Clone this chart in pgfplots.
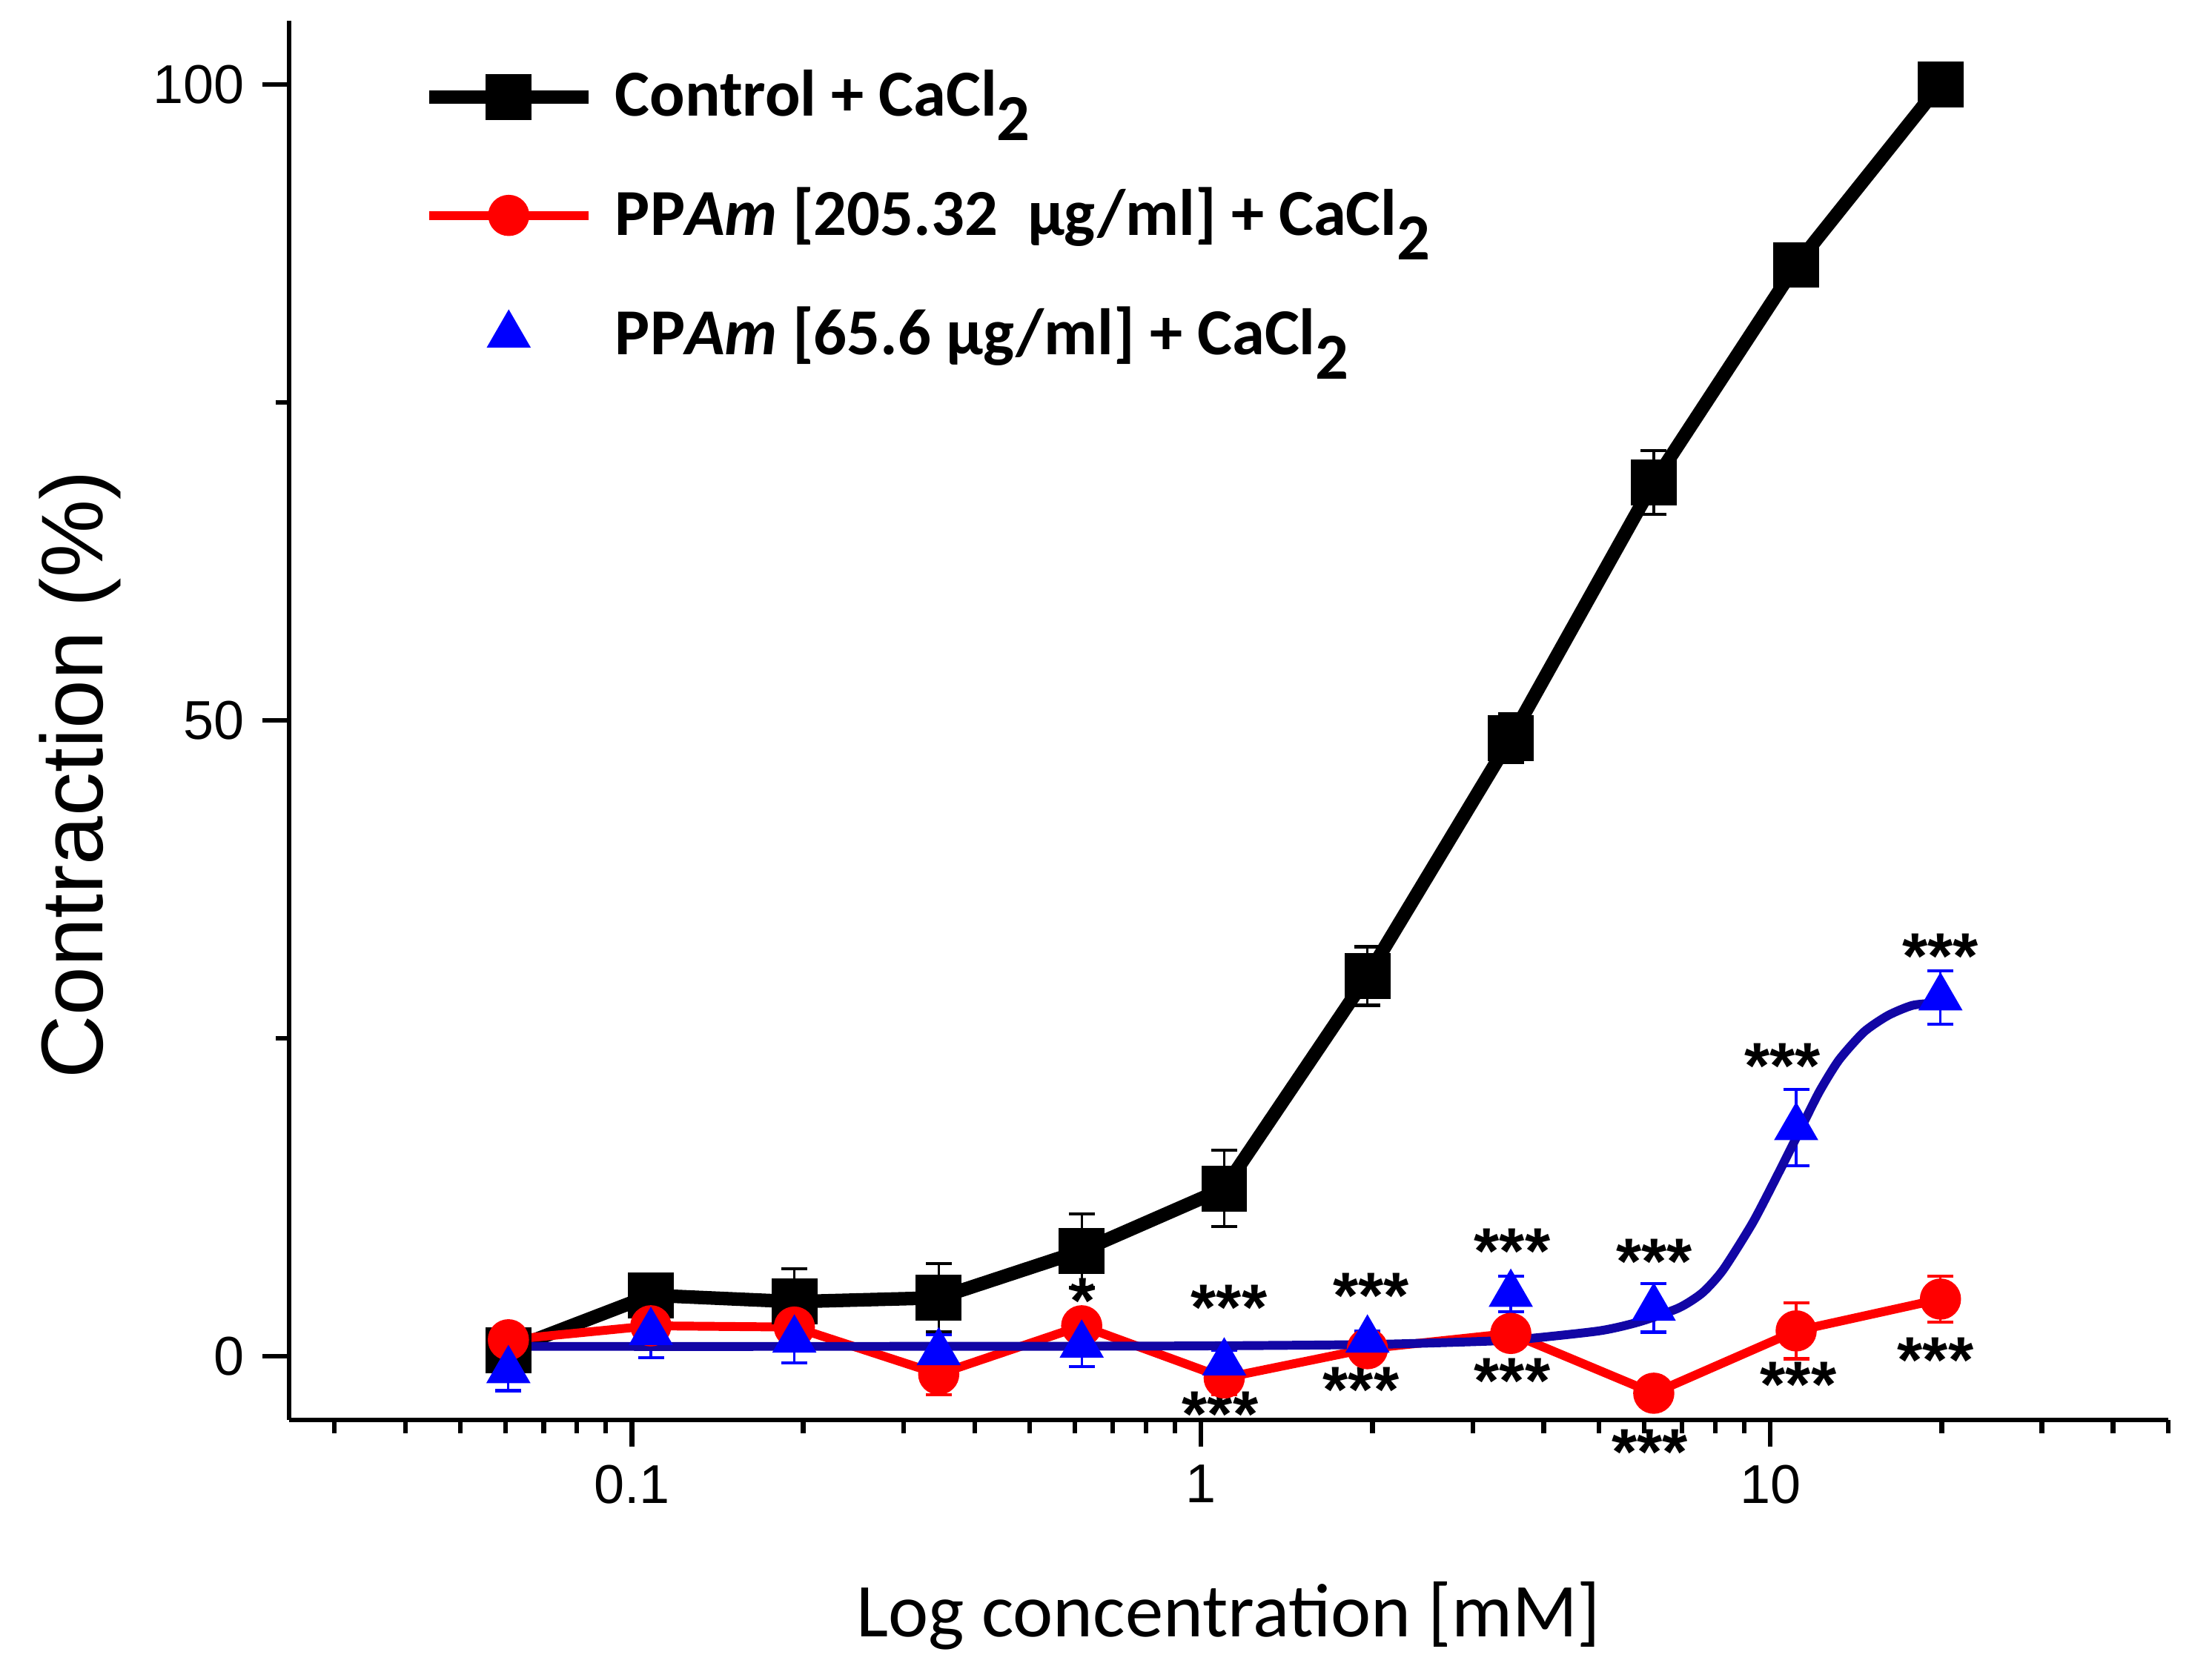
\documentclass[border=0pt]{standalone}
\usepackage{fontspec}
\setmainfont{Carlito}
\newfontfamily\arialfont{Liberation Sans}
\usepackage{pgfplots}
\pgfplotsset{compat=1.18}
\definecolor{myred}{RGB}{255,0,0}
\definecolor{myblue}{RGB}{0,0,255}
\definecolor{navy}{RGB}{18,6,165}
\newcommand{\subtwo}{\raisebox{-0.37em}{2}}
\tikzset{stars/.style={font=\arialfont\bfseries\fontsize{12.5}{14}\selectfont, inner sep=0pt, yshift=-0.09cm}}

\pgfplotstableread{
x y e
0.0607 0.5 0
0.108 4.8 1.5
0.193 4.3 2.6
0.346 4.6 2.7
0.617 8.3 2.9
1.098 13.2 3.0
1.96 29.9 2.3
3.50 48.6 1.9
6.24 68.7 2.5
11.1 85.8 1.0
19.9 100.0 0.0
}\control

\pgfplotstableread{
x y e
0.0607 1.3 0.3
0.108 2.4 0.5
0.193 2.3 1.5
0.346 -1.4 1.6
0.617 2.4 0.5
1.098 -1.7 1.3
1.96 0.6 0.9
3.50 1.8 0.6
6.24 -2.9 0.8
11.1 2.0 2.2
19.9 4.5 1.8
}\high

\pgfplotstableread{
x y e
0.0607 -1.1 1.6
0.108 1.9 2.0
0.193 1.3 1.8
0.346 0.3 1.4
0.617 0.9 1.7
1.098 -0.5 1.0
1.96 1.3 0.7
3.50 4.9 1.4
6.24 3.8 1.9
11.1 18.0 3.0
19.9 28.2 2.1
}\low

\pgfplotstableread{
x y
0.0607 0.78
0.2 0.78
0.5 0.79
1.0 0.82
1.97 0.93
3.0 1.15
3.63 1.33
5.0 2.0
5.87 2.7
6.9 3.8
7.6 5.0
8.26 6.8
9.31 10.5
10.28 14.2
11.25 17.7
12.19 20.8
13.2 23.3
14.6 25.5
16.1 26.8
17.8 27.6
19.9 27.8
}\fit

\begin{document}
\begin{tikzpicture}
\useasboundingbox (-1.95cm,-1.66cm) rectangle (12.97cm,9.58cm);
\begin{axis}[
  at={(0,0)}, anchor=south west,
  scale only axis, width=12.675cm, height=9.44cm,
  xmode=log, xmin=0.025, xmax=50, ymin=-5, ymax=105,
  axis lines=left, axis line style={-, line width=0.9pt, black},
  tick align=outside, major tick length=0.18cm, minor tick length=0.09cm,
  tick style={line width=0.9pt, black},
  xtick={0.1,1,10}, xticklabels={0.1,1,10},
  minor xtick={0.03,0.04,0.05,0.06,0.07,0.08,0.09,0.2,0.3,0.4,0.5,0.6,0.7,0.8,0.9,2,3,4,5,6,7,8,9,20,30,40,50},
  ytick={0,50,100}, minor ytick={25,75},
  /pgf/number format/assume math mode=true,
  ticklabel style={font=\arialfont\fontsize{10.5}{12}\selectfont},
  clip=false,
  xlabel={Log concentration [mM]},
  xlabel style={font=\fontsize{14.6}{17}\selectfont, at={(axis description cs:0.5,-0.1547)}, anchor=base},
  ylabel={Contraction (\%)},
  ylabel style={font=\arialfont\fontsize{16.8}{20}\selectfont, at={(axis description cs:-0.0994,0.461)}, anchor=base},
  legend style={draw=none, fill=none, at={(axis description cs:0.062,0.973)}, anchor=north west,
    font=\bfseries\fontsize{12.6}{15}\selectfont, row sep=0.43cm, column sep=0.135cm, nodes={inner sep=0pt}},
  legend cell align=left,
  legend image code/.code={\draw[mark repeat=2,mark phase=2,#1] plot coordinates {(0cm,0cm) (0.5375cm,0cm) (1.075cm,0cm)};},
]
\addplot[black, line width=2.6pt, mark=square*, mark size=3.1pt,
  error bars/.cd, y dir=both, y explicit, error bar style={black, line width=0.45pt},
  error mark options={black, rotate=90, mark size=0.0875cm, line width=0.6pt}]
  table[x=x, y=y, y error=e] {\control};
\addlegendentry{Control + CaCl\subtwo}
\addplot[myred, line width=1.7pt, mark=*, mark size=3.1pt,
  error bars/.cd, y dir=both, y explicit, error bar style={myred, line width=0.45pt},
  error mark options={myred, rotate=90, mark size=0.0875cm, line width=0.6pt}]
  table[x=x, y=y, y error=e] {\high};
\addlegendentry{PP\textit{Am} [205.32\ \ µg/ml] + CaCl\subtwo}
\addplot[myblue, only marks, mark=triangle*, mark size=4.5pt,
  error bars/.cd, y dir=both, y explicit, error bar style={myblue, line width=0.45pt},
  error mark options={myblue, rotate=90, mark size=0.0875cm, line width=0.6pt}]
  table[x=x, y=y, y error=e] {\low};
\addlegendentry{PP\textit{Am} [65.6 µg/ml] + CaCl\subtwo}
\addplot[navy, line width=1.7pt, smooth, tension=0.4, no marks, forget plot] table[x=x, y=y] {\fit};

\node[stars] at (axis cs:0.62,5.4) {*};
\node[stars] at (axis cs:1.12,4.9) {***};
\node[stars] at (axis cs:1.08,-3.5) {***};
\node[stars] at (axis cs:1.99,5.8) {***};
\node[stars] at (axis cs:1.91,-1.6) {***};
\node[stars] at (axis cs:3.52,9.3) {***};
\node[stars] at (axis cs:3.52,-0.9) {***};
\node[stars] at (axis cs:6.25,8.5) {***};
\node[stars] at (axis cs:6.14,-6.5) {***};
\node[stars] at (axis cs:10.5,23.9) {***};
\node[stars] at (axis cs:11.2,-1.2) {***};
\node[stars] at (axis cs:19.9,32.5) {***};
\node[stars] at (axis cs:19.5,0.75) {***};
\end{axis}
\end{tikzpicture}
\end{document}
